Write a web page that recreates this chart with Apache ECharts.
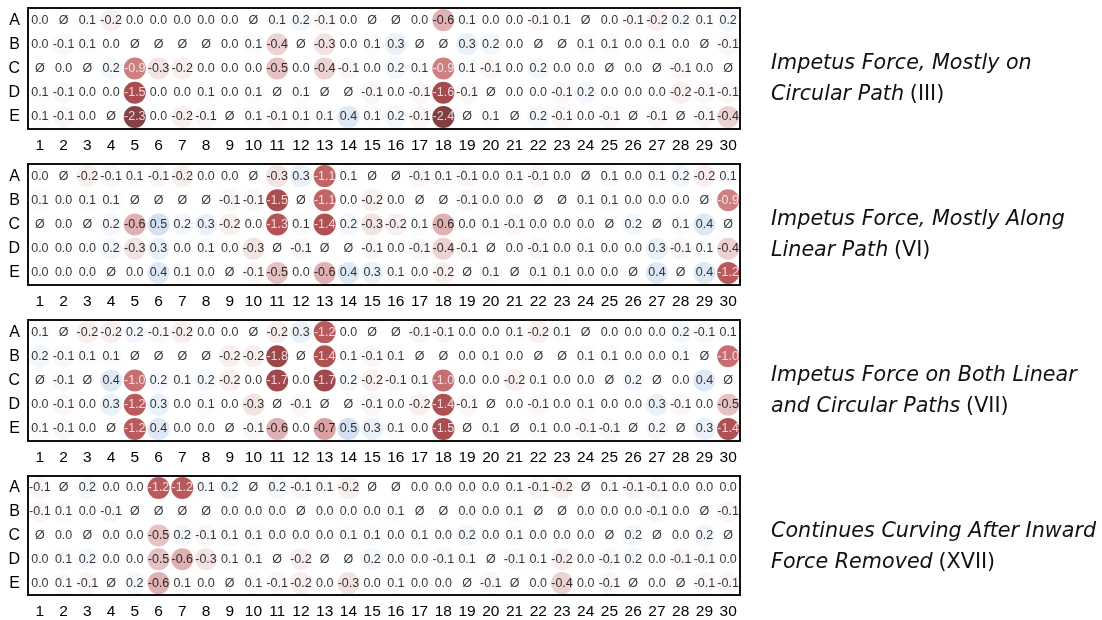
<!DOCTYPE html>
<html>
<head>
<meta charset="utf-8">
<script src="https://cdn.jsdelivr.net/npm/echarts@6/dist/echarts.min.js"></script>
<style>
  html, body { margin: 0; padding: 0; background: #fff; }
  #chart { width: 1102px; height: 620px; }
</style>
</head>
<body>
<div id="chart"></div>
<script>
// Column and row categories shared by every panel
const columns = Array.from({ length: 30 }, (_, i) => String(i + 1));
const rows = ['A', 'B', 'C', 'D', 'E'];

// Mean differences per cell; null marks a cell with no estimate (drawn as Ø)
const panelIII = [
  [0.0, null, 0.1, -0.2, 0.0, 0.0, 0.0, 0.0, 0.0, null, 0.1, 0.2, -0.1, 0.0, null, null, 0.0, -0.6, 0.1, 0.0, 0.0, -0.1, 0.1, null, 0.0, -0.1, -0.2, 0.2, 0.1, 0.2],
  [0.0, -0.1, 0.1, 0.0, null, null, null, null, 0.0, 0.1, -0.4, null, -0.3, 0.0, 0.1, 0.3, null, null, 0.3, 0.2, 0.0, null, null, 0.1, 0.1, 0.0, 0.1, 0.0, null, -0.1],
  [null, 0.0, null, 0.2, -0.9, -0.3, -0.2, 0.0, 0.0, 0.0, -0.5, 0.0, -0.4, -0.1, 0.0, 0.2, 0.1, -0.9, 0.1, -0.1, 0.0, 0.2, 0.0, 0.0, null, 0.0, null, -0.1, 0.0, null],
  [0.1, -0.1, 0.0, 0.0, -1.5, 0.0, 0.0, 0.1, 0.0, 0.1, null, 0.1, null, null, -0.1, 0.0, -0.1, -1.6, -0.1, null, 0.0, 0.0, -0.1, 0.2, 0.0, 0.0, 0.0, -0.2, -0.1, -0.1],
  [0.1, -0.1, 0.0, null, -2.3, 0.0, -0.2, -0.1, null, 0.1, -0.1, 0.1, 0.1, 0.4, 0.1, 0.2, -0.1, -2.4, null, 0.1, null, 0.2, -0.1, 0.0, -0.1, null, -0.1, null, -0.1, -0.4]
];
const panelVI = [
  [0.0, null, -0.2, -0.1, 0.1, -0.1, -0.2, 0.0, 0.0, null, -0.3, 0.3, -1.1, 0.1, null, null, -0.1, 0.1, -0.1, 0.0, 0.1, -0.1, 0.0, null, 0.1, 0.0, 0.1, 0.2, -0.2, 0.1],
  [0.1, 0.0, 0.1, 0.1, null, null, null, null, -0.1, -0.1, -1.5, null, -1.1, 0.0, -0.2, 0.0, null, null, -0.1, 0.0, 0.0, null, null, 0.1, 0.1, 0.0, 0.0, 0.0, null, -0.9],
  [null, 0.0, null, 0.2, -0.6, 0.5, 0.2, 0.3, -0.2, 0.0, -1.3, 0.1, -1.4, 0.2, -0.3, -0.2, 0.1, -0.6, 0.0, 0.1, -0.1, 0.0, 0.0, 0.0, null, 0.2, null, 0.1, 0.4, null],
  [0.0, 0.0, 0.0, 0.2, -0.3, 0.3, 0.0, 0.1, 0.0, -0.3, null, -0.1, null, null, -0.1, 0.0, -0.1, -0.4, -0.1, null, 0.0, -0.1, 0.0, 0.1, 0.0, 0.0, 0.3, -0.1, 0.1, -0.4],
  [0.0, 0.0, 0.0, null, 0.0, 0.4, 0.1, 0.0, null, -0.1, -0.5, 0.0, -0.6, 0.4, 0.3, 0.1, 0.0, -0.2, null, 0.1, null, 0.1, 0.1, 0.0, 0.0, null, 0.4, null, 0.4, -1.2]
];
const panelVII = [
  [0.1, null, -0.2, -0.2, 0.2, -0.1, -0.2, 0.0, 0.0, null, -0.2, 0.3, -1.2, 0.0, null, null, -0.1, -0.1, 0.0, 0.0, 0.1, -0.2, 0.1, null, 0.0, 0.0, 0.0, 0.2, -0.1, 0.1],
  [0.2, -0.1, 0.1, 0.1, null, null, null, null, -0.2, -0.2, -1.8, null, -1.4, 0.1, -0.1, 0.1, null, null, 0.0, 0.1, 0.0, null, null, 0.1, 0.1, 0.0, 0.0, 0.1, null, -1.0],
  [null, -0.1, null, 0.4, -1.0, 0.2, 0.1, 0.2, -0.2, 0.0, -1.7, 0.0, -1.7, 0.2, -0.2, -0.1, 0.1, -1.0, 0.0, 0.0, -0.2, 0.1, 0.0, 0.0, null, 0.2, null, 0.0, 0.4, null],
  [0.0, -0.1, 0.0, 0.3, -1.2, 0.3, 0.0, 0.1, 0.0, -0.3, null, -0.1, null, null, -0.1, 0.0, -0.2, -1.4, -0.1, null, 0.0, -0.1, 0.0, 0.1, 0.0, 0.0, 0.3, -0.1, 0.0, -0.5],
  [0.1, -0.1, 0.0, null, -1.2, 0.4, 0.0, 0.0, null, -0.1, -0.6, 0.0, -0.7, 0.5, 0.3, 0.1, 0.0, -1.5, null, 0.1, null, 0.1, 0.0, -0.1, -0.1, null, 0.2, null, 0.3, -1.4]
];
const panelXVII = [
  [-0.1, null, 0.2, 0.0, 0.0, -1.2, -1.2, 0.1, 0.2, null, 0.2, -0.1, 0.1, -0.2, null, null, 0.0, 0.0, 0.0, 0.0, 0.1, -0.1, -0.2, null, 0.1, -0.1, -0.1, 0.0, 0.0, 0.0],
  [-0.1, 0.1, 0.0, -0.1, null, null, null, null, 0.0, 0.0, 0.0, null, 0.0, 0.0, 0.0, 0.1, null, null, 0.0, 0.0, 0.1, null, null, 0.0, 0.0, 0.0, -0.1, 0.0, null, -0.1],
  [null, 0.0, null, 0.0, 0.0, -0.5, 0.2, -0.1, 0.1, 0.1, 0.0, 0.0, 0.0, 0.1, 0.1, 0.0, 0.1, 0.0, 0.2, 0.0, 0.1, 0.0, 0.0, 0.0, null, 0.2, null, 0.0, 0.2, null],
  [0.0, 0.1, 0.2, 0.0, 0.0, -0.5, -0.6, -0.3, 0.1, 0.1, null, -0.2, null, null, 0.2, 0.0, 0.0, -0.1, 0.1, null, -0.1, 0.1, -0.2, 0.0, -0.1, 0.2, 0.0, -0.1, -0.1, 0.0],
  [0.0, 0.1, -0.1, null, 0.2, -0.6, 0.1, 0.0, null, 0.1, -0.1, -0.2, 0.0, -0.3, 0.0, 0.1, 0.0, 0.0, null, -0.1, null, 0.0, -0.4, 0.0, -0.1, null, 0.0, null, -0.1, -0.1]
];

// Panel captions: italic description and roman numeral
const captionLines = [
  ['Impetus Force, Mostly on', 'Circular Path'],
  ['Impetus Force, Mostly Along', 'Linear Path'],
  ['Impetus Force on Both Linear', 'and Circular Paths'],
  ['Continues Curving After Inward', 'Force Removed']
];
const captionNumerals = ['(III)', '(VI)', '(VII)', '(XVII)'];

const panels = [panelIII, panelVI, panelVII, panelXVII];

const gridTops = [8, 164, 320, 476];
const gridHeight = 121;
const cellFont = "'Liberation Sans', Arial, sans-serif";
const captionFont = "'DejaVu Sans', sans-serif";
const captionSize = 20.7;

const grids = [], xAxes = [], yAxes = [], series = [], titles = [];

const cellLabel = {
  show: true, position: 'inside', fontSize: 12.5, fontFamily: cellFont,
  textBorderWidth: 0, textBorderColor: 'transparent', textShadowBlur: 0
};

panels.forEach((panel, p) => {
  grids.push({
    left: 28, width: 712, top: gridTops[p], height: gridHeight,
    show: true, borderColor: '#111', borderWidth: 2, backgroundColor: 'transparent'
  });
  xAxes.push({
    type: 'category', gridIndex: p, data: columns, boundaryGap: true,
    axisLine: { show: false }, axisTick: { show: false }, splitLine: { show: false },
    axisLabel: { margin: 9, fontSize: 15.5, color: '#000', fontFamily: cellFont, interval: 0 }
  });
  yAxes.push({
    type: 'category', gridIndex: p, data: rows, inverse: true, boundaryGap: true,
    axisLine: { show: false }, axisTick: { show: false }, splitLine: { show: false },
    axisLabel: { margin: 8, fontSize: 16, color: '#000', fontFamily: cellFont }
  });

  const filled = [], empty = [];
  panel.forEach((rowVals, r) => {
    rowVals.forEach((v, c) => {
      if (v === null) {
        empty.push([c, r]);
      } else {
        filled.push({
          value: [c, r, v],
          label: { color: Math.abs(v) >= 0.8 ? '#ffffff' : '#000000' }
        });
      }
    });
  });

  series.push({
    type: 'scatter', xAxisIndex: p, yAxisIndex: p,
    symbol: 'circle', symbolSize: 22,
    data: filled,
    label: Object.assign({}, cellLabel, {
      formatter: (d) => d.value[2].toFixed(1)
    }),
    emphasis: { disabled: true },
    silent: true
  });
  series.push({
    type: 'scatter', xAxisIndex: p, yAxisIndex: p,
    symbol: 'circle', symbolSize: 2,
    itemStyle: { color: 'rgba(255,255,255,0)' },
    data: empty,
    label: Object.assign({}, cellLabel, { color: '#000000', formatter: 'Ø' }),
    emphasis: { disabled: true },
    silent: true
  });

  const [l1, l2] = captionLines[p];
  titles.push({
    left: 771, top: gridTops[p] + 40, padding: 0,
    text: '{i|' + l1 + '}\n{i|' + l2 + '} {n|' + captionNumerals[p] + '}',
    textStyle: {
      fontSize: captionSize, lineHeight: 31, fontWeight: 'normal', color: '#111',
      rich: {
        i: { fontStyle: 'italic', fontSize: captionSize, lineHeight: 31, fontFamily: captionFont, color: '#111' },
        n: { fontStyle: 'normal', fontSize: captionSize, lineHeight: 31, fontFamily: captionFont, color: '#111' }
      }
    }
  });
});

const chart = echarts.init(document.getElementById('chart'), null, { renderer: 'canvas' });
chart.setOption({
  animation: false,
  backgroundColor: '#ffffff',
  title: titles,
  grid: grids,
  xAxis: xAxes,
  yAxis: yAxes,
  visualMap: {
    type: 'continuous', show: false, dimension: 2,
    seriesIndex: [0, 2, 4, 6],
    min: -2.5, max: 2.5,
    inRange: {
      // diverging scale in 0.25 steps from -2.5 (deep red) to 2.5 (deep blue)
      color: ['#5a0d10', '#6a1316', '#78171b', '#85191d', '#952024', '#a5292d',
              '#b84a4d', '#cc7e80', '#e0b3b4', '#f5e6e6', '#ffffff',
              '#edf2fa', '#c9d9ef', '#a8c2e5', '#8fb0dc', '#739ad1',
              '#5a88c6', '#4676b6', '#3464a6', '#285693', '#1d4680']
    }
  },
  series: series
});
</script>
</body>
</html>
